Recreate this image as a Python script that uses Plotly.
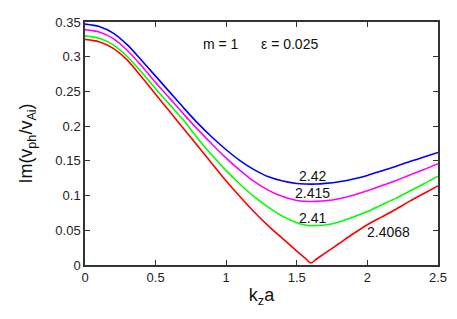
import plotly.graph_objects as go

kz = [0.0, 0.1, 0.2, 0.3, 0.4, 0.5, 0.6, 0.7, 0.8, 0.9, 1.0, 1.1, 1.2,
      1.3, 1.4, 1.5, 1.56, 1.6, 1.64, 1.7, 1.8, 1.9, 2.0, 2.1, 2.2, 2.3, 2.4, 2.5]

im_242 = [0.347, 0.3435, 0.334, 0.317, 0.295, 0.272, 0.249, 0.226, 0.204, 0.184,
          0.166, 0.150, 0.137, 0.127, 0.121, 0.1175, 0.1167, 0.1165, 0.1166, 0.1175,
          0.120, 0.124, 0.129, 0.1355, 0.142, 0.149, 0.1555, 0.162]
im_2415 = [0.339, 0.3355, 0.326, 0.309, 0.287, 0.263, 0.240, 0.217, 0.195, 0.174,
           0.154, 0.136, 0.120, 0.1075, 0.0985, 0.093, 0.0918, 0.0915, 0.0917, 0.0925,
           0.0955, 0.1005, 0.107, 0.114, 0.1215, 0.1295, 0.1375, 0.146]
im_241 = [0.330, 0.3265, 0.317, 0.300, 0.278, 0.254, 0.231, 0.208, 0.182, 0.158,
          0.136, 0.116, 0.098, 0.083, 0.070, 0.061, 0.0575, 0.0566, 0.0568, 0.0575,
          0.062, 0.069, 0.077, 0.0865, 0.096, 0.1065, 0.117, 0.128]
im_24068 = [0.325, 0.3215, 0.312, 0.295, 0.271, 0.246, 0.221, 0.196, 0.171, 0.146,
            0.121, 0.098, 0.076, 0.056, 0.038, 0.020, 0.0098, 0.003, 0.0086, 0.017,
            0.031, 0.045, 0.058, 0.069, 0.080, 0.092, 0.103, 0.114]

labels = ["2.42", "2.415", "2.41", "2.4068"]
label_x = [1.61, 1.61, 1.61, 2.146]
label_y = [0.128, 0.103, 0.068, 0.048]

colors = ["#0000ff", "#ff00ff", "#00ff00", "#ff0000"]
series = [im_242, im_2415, im_241, im_24068]

fig = go.Figure()
for ys, col in zip(series, colors):
    fig.add_trace(go.Scatter(x=kz, y=ys, mode="lines",
                             line=dict(color=col, width=1.6, shape="spline", smoothing=0.8),
                             showlegend=False))

for t, x, y in zip(labels, label_x, label_y):
    fig.add_annotation(x=x, y=y, text=t, showarrow=False,
                       font=dict(size=14, color="#111"))

fig.add_annotation(x=0.963, y=0.318, text="m = 1", showarrow=False,
                   font=dict(size=14, color="#111"))
fig.add_annotation(x=1.445, y=0.318, text="ε = 0.025", showarrow=False,
                   font=dict(size=14, color="#111"))

axis_common = dict(showgrid=False, zeroline=False, showline=True,
                   linecolor="#333", linewidth=1.5, mirror="ticks",
                   ticks="inside", ticklen=5, tickcolor="#333",
                   tickfont=dict(size=13, color="#222"))

fig.update_xaxes(range=[0, 2.5], tickvals=[0, 0.5, 1, 1.5, 2, 2.5],
                 title=dict(text="k<sub>z</sub>a", font=dict(size=18, color="#111"), standoff=4),
                 **axis_common)
fig.update_yaxes(range=[0, 0.35], tickvals=[0, 0.05, 0.1, 0.15, 0.2, 0.25, 0.3, 0.35],
                 title=dict(text="Im(v<sub>ph</sub>/v<sub>Ai</sub>)", font=dict(size=18, color="#111"), standoff=18),
                 **axis_common)

fig.update_layout(width=449, height=311,
                  margin=dict(l=77, r=19, t=7, b=53.5),
                  plot_bgcolor="white", paper_bgcolor="white",
                  font=dict(family="Liberation Sans, Arial, sans-serif"))

fig.write_html("out.html")
